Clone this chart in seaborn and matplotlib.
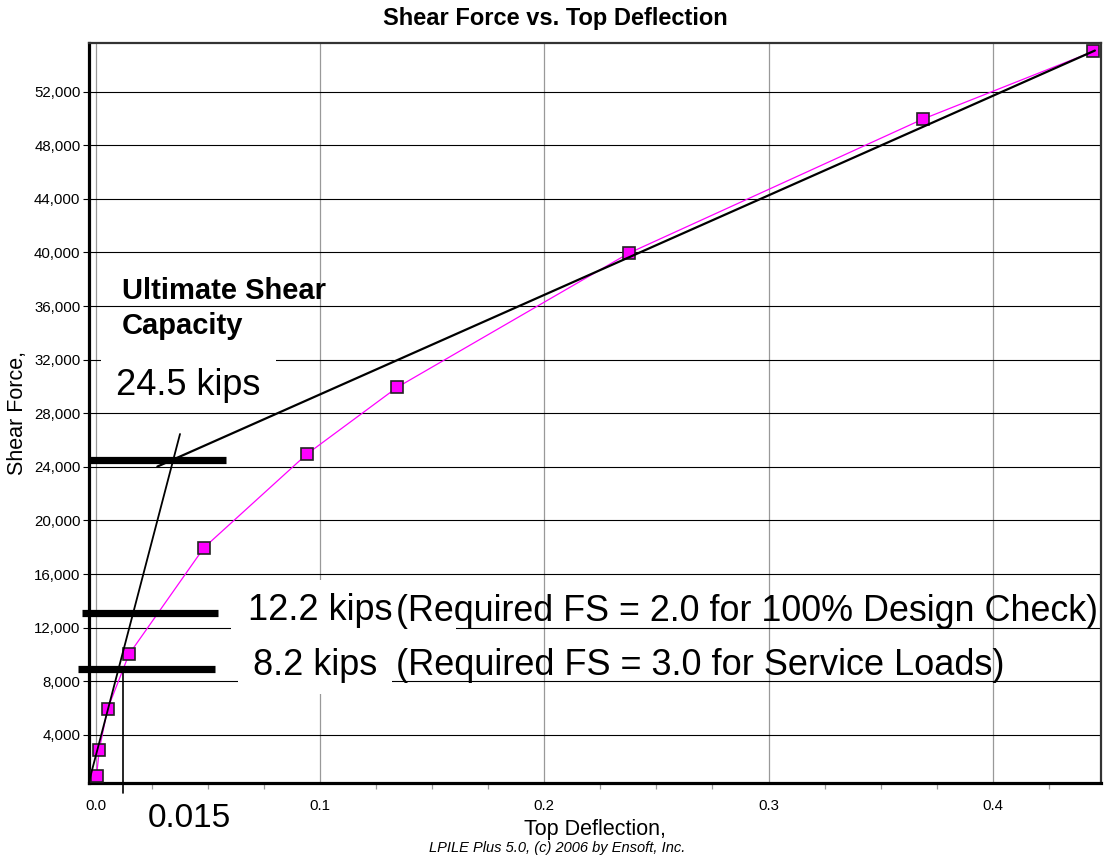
import seaborn as sns
import matplotlib.pyplot as plt
import pandas as pd
from matplotlib.patches import Rectangle

# Данные
deflection = [0.0004, 0.0016, 0.0053, 0.0148, 0.0483, 0.0941, 0.1345, 0.2378, 0.3687, 0.4447]
shear = [950, 2900, 5930, 10000, 17970, 24940, 29940, 39950, 49940, 54990]

# касательная к начальному участку и секущая к концу кривой
init_x = [-0.0031, 0.0376]
init_y = [430, 26450]
secant_x = [0.0275, 0.4455]
secant_y = [24020, 55060]

# толстые горизонтальные линии (уровни нагрузок)
bar_y = [24500, 13120, 8900]
bar_x0 = [-0.0031, -0.0062, -0.0078]
bar_x1 = [0.058, 0.0547, 0.0532]

marker_x = 0.0123  # вертикальная отметка "0.015"

y_ticks = list(range(4000, 52001, 4000))
x_ticks = [0.0, 0.1, 0.2, 0.3, 0.4]
x_minor = [0.025, 0.05, 0.075, 0.125, 0.15, 0.175, 0.225, 0.25, 0.275,
           0.325, 0.35, 0.375, 0.425]

df = pd.DataFrame({'x': deflection, 'y': shear})

sns.set_style('white')
plt.rcParams['font.family'] = ['Liberation Sans', 'DejaVu Sans']
plt.rcParams['text.color'] = 'black'
plt.rcParams['axes.labelcolor'] = 'black'
plt.rcParams['xtick.color'] = 'black'
plt.rcParams['ytick.color'] = 'black'

fig = plt.figure(figsize=(11.05, 8.65), dpi=100)
ax = fig.add_axes([0.0803, 0.0951, 0.9158, 0.855])
ax.set_axisbelow(True)

ax.set_xlim(-0.0031, 0.4481)
ax.set_ylim(430, 55612)

# сетка
ax.set_xticks(x_ticks)
ax.set_xticklabels([f'{v:.1f}' for v in x_ticks])
ax.set_xticks(x_minor, minor=True)
ax.set_yticks(y_ticks)
ax.set_yticklabels([f'{v:,}' for v in y_ticks])
ax.grid(axis='y', color='black', lw=0.8)
ax.grid(axis='x', color='#999999', lw=0.9)
ax.tick_params(axis='x', which='major', length=5, color='#999999', width=0.9,
               labelsize=10.8, pad=7, labelcolor='black')
ax.tick_params(axis='x', which='minor', length=4, color='#999999', width=0.9,
               bottom=True)
ax.tick_params(axis='y', length=4, color='black', width=0.8, labelsize=10.8, pad=2,
               left=True, labelcolor='black')

for s in ['left', 'bottom']:
    ax.spines[s].set_linewidth(2.3)
    ax.spines[s].set_color('black')
for s in ['top', 'right']:
    ax.spines[s].set_linewidth(1.6)
    ax.spines[s].set_color('#333333')
    ax.spines[s].set_visible(True)

# белые подложки под надписями
ax.add_patch(Rectangle((0.0022, 28250), 0.0782, 4850, facecolor='white', edgecolor='none', zorder=1))
ax.add_patch(Rectangle((0.0603, 11080), 0.1003, 4480, facecolor='white', edgecolor='none', zorder=1))
ax.add_patch(Rectangle((0.0634, 7030), 0.0687, 4050, facecolor='white', edgecolor='none', zorder=1))

# основная кривая
sns.lineplot(data=df, x='x', y='y', ax=ax, color='#ff00ff', lw=0.9, marker='s',
             markersize=9.2, markerfacecolor='#ff00ff', markeredgecolor='#222222',
             markeredgewidth=1.2, sort=False, zorder=3)

sns.lineplot(x=init_x, y=init_y, ax=ax, color='black', lw=1.3, zorder=4)
sns.lineplot(x=secant_x, y=secant_y, ax=ax, color='black', lw=1.6, zorder=4)

for y0, xa, xb in zip(bar_y, bar_x0, bar_x1):
    ax.plot([xa, xb], [y0, y0], color='black', lw=5.2, solid_capstyle='butt',
            clip_on=False, zorder=5)

ax.plot([marker_x, marker_x], [8690, -320], color='black', lw=1.2, clip_on=False, zorder=4)

# надписи
ax.text(0.0116, 36530, 'Ultimate Shear', fontsize=21, fontweight='bold', va='baseline', zorder=6)
ax.text(0.0116, 33920, 'Capacity', fontsize=21, fontweight='bold', va='baseline', zorder=6)
ax.text(0.0091, 29380, '24.5 kips', fontsize=26, va='baseline', zorder=6)
ax.text(0.0679, 12575, '12.2 kips', fontsize=26, va='baseline', zorder=6)
ax.text(0.1339, 12500, '(Required FS = 2.0 for 100% Design Check)', fontsize=25.8,
        va='baseline', zorder=6)
ax.text(0.0701, 8470, '8.2 kips', fontsize=26, va='baseline', zorder=6)
ax.text(0.1339, 8470, '(Required FS = 3.0 for Service Loads)', fontsize=26,
        va='baseline', zorder=6)
ax.text(0.0233, -2873, '0.015', fontsize=24, va='baseline', zorder=6)

ax.set_xlabel('Top Deflection,', fontsize=15.5, labelpad=4)
ax.set_ylabel('Shear Force,', fontsize=15.5, labelpad=4)

fig.text(0.503, 0.979, 'Shear Force vs. Top Deflection', fontsize=17, fontweight='bold',
         ha='center', va='center')
fig.text(0.504, 0.0155, 'LPILE Plus 5.0, (c) 2006 by Ensoft, Inc.', fontsize=10.5,
         style='italic', ha='center', va='baseline')

plt.savefig('out.png', dpi=100)
